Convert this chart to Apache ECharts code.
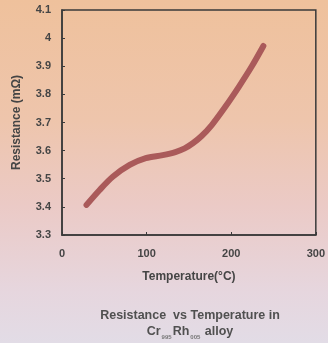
<!DOCTYPE html>
<html><head><meta charset="utf-8">
<script src="https://cdn.jsdelivr.net/npm/echarts@6/dist/echarts.min.js"></script>
<style>html,body{margin:0;padding:0;}#c{width:328px;height:343px;}</style>
</head><body><div id="c"></div>
<script>
var temperature = [29, 44.5, 60, 80, 99, 119, 134, 145, 155, 165, 177, 193, 209, 224, 238];
var resistance = [3.407, 3.46, 3.507, 3.549, 3.573, 3.584, 3.595, 3.608, 3.627, 3.652, 3.691, 3.756, 3.827, 3.898, 3.972];
var xTicks = [0, 100, 200, 300];
var yTicks = [3.3, 3.4, 3.5, 3.6, 3.7, 3.8, 3.9, 4, 4.1];

var data = temperature.map(function (t, i) { return [t, resistance[i]]; });
var chart = echarts.init(document.getElementById('c'));
var txt = '#454545';
var ff = 'Liberation Sans, Arial';
chart.setOption({
  backgroundColor: new echarts.graphic.LinearGradient(0, 0, 0, 1, [
    {offset: 0, color: '#efc19c'},
    {offset: 0.35, color: '#eec5ac'},
    {offset: 0.6, color: '#ebcac6'},
    {offset: 0.85, color: '#e6d6de'},
    {offset: 1, color: '#e2dce6'}
  ]),
  animation: false,
  grid: {left: 62, right: 10, top: 10, bottom: 108, show: true, borderColor: '#3a3a3a', borderWidth: 1.5},
  title: {
    text: 'Resistance  vs Temperature in\n{n|Cr}{s|995}{n|Rh}{s|005}{n| alloy}',
    left: 185, top: 303, textAlign: 'center',
    textStyle: {
      fontFamily: ff, fontSize: 12.5, fontWeight: 'bold', color: '#505050', lineHeight: 16,
      rich: {
        n: {fontFamily: ff, fontSize: 12.5, fontWeight: 'bold', color: '#505050', lineHeight: 16},
        s: {fontFamily: ff, fontSize: 6, fontWeight: 'bold', color: '#777', verticalAlign: 'bottom', padding: [7, 1, 0, 1]}
      }
    }
  },
  xAxis: {
    type: 'value', min: 0, max: 300, interval: 100,
    name: 'Temperature(°C)', nameLocation: 'middle', nameGap: 36,
    nameTextStyle: {fontFamily: ff, fontSize: 12, fontWeight: 'bold', color: txt},
    axisLine: {show: true, lineStyle: {color: '#3a3a3a', width: 1.5}},
    axisTick: {show: true, inside: true, length: 3, lineStyle: {color: '#3a3a3a'}},
    axisLabel: {fontFamily: ff, fontSize: 11, fontWeight: 'bold', color: txt, margin: 13,
      formatter: function (v) { return xTicks.indexOf(v) >= 0 ? String(v) : ''; }},
    splitLine: {show: false}
  },
  yAxis: {
    type: 'value', min: 3.3, max: 4.1, interval: 0.1,
    name: 'Resistance (mΩ)', nameLocation: 'middle', nameGap: 39,
    nameTextStyle: {fontFamily: ff, fontSize: 12, fontWeight: 'bold', color: txt},
    axisLine: {show: true, lineStyle: {color: '#3a3a3a', width: 1.5}},
    axisTick: {show: true, inside: true, length: 3, lineStyle: {color: '#3a3a3a'}},
    axisLabel: {fontFamily: ff, fontSize: 11, fontWeight: 'bold', color: txt, margin: 11,
      formatter: function (v) { var r = Math.round(v * 10) / 10; return yTicks.indexOf(r) >= 0 ? String(r) : ''; }},
    splitLine: {show: false}
  },
  series: [{
    type: 'line', data: data, smooth: 0.3, symbol: 'none',
    lineStyle: {color: '#aa5a5a', width: 6, cap: 'round', join: 'round'}
  }]
});
</script></body></html>
